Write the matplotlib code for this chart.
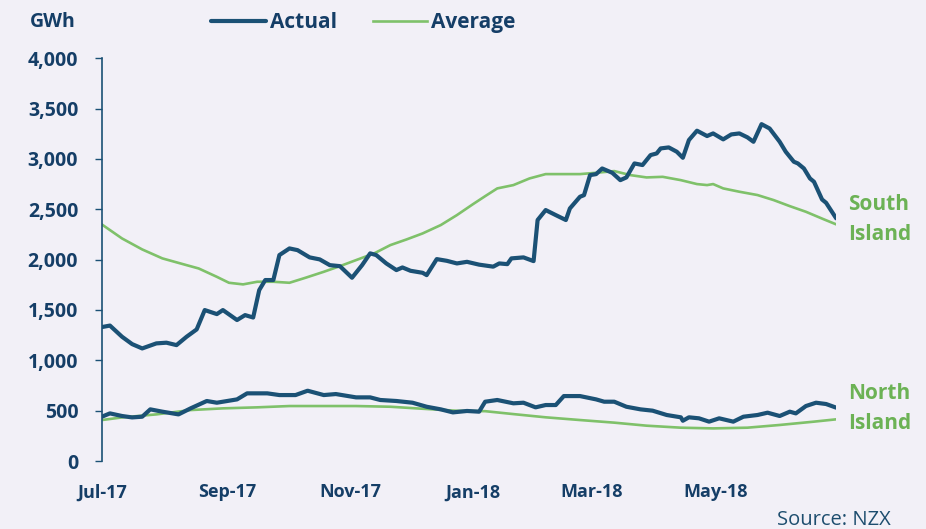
import numpy as np
import pandas as pd
import matplotlib
matplotlib.use("Agg")
import matplotlib.pyplot as plt
import matplotlib.dates as mdates

# days since 1 Jul 2017, values in GWh
south_actual_day = [0, 4, 10, 15, 20, 27, 32, 37, 42, 47, 51, 57, 60, 67, 71, 75, 78, 81, 85, 88,
                    93, 97, 103, 108, 113, 118, 124, 129, 133, 136, 141, 146, 149, 153, 159, 161,
                    166, 171, 176, 181, 187, 194, 197, 201, 203, 209, 214, 216, 220, 225, 230, 232,
                    237, 239, 242, 245, 248, 253, 257, 260, 264, 268, 272, 275, 277, 281, 285, 288,
                    291, 295, 300, 303, 308, 312, 316, 320, 323, 327, 331, 336, 339, 343, 345, 348,
                    351, 353, 357, 359, 364]
south_actual = [1330, 1345, 1234, 1161, 1118, 1168, 1175, 1151, 1234, 1307, 1499, 1459, 1499, 1400,
                1449, 1425, 1697, 1797, 1797, 2045, 2111, 2094, 2022, 2002, 1945, 1935, 1820, 1945,
                2062, 2045, 1962, 1896, 1922, 1889, 1869, 1846, 2005, 1988, 1962, 1978, 1950, 1930,
                1962, 1955, 2012, 2022, 1985, 2393, 2492, 2442, 2393, 2508, 2624, 2640, 2839, 2849,
                2905, 2862, 2789, 2816, 2955, 2939, 3038, 3054, 3104, 3114, 3071, 3011, 3187, 3280,
                3227, 3253, 3194, 3243, 3253, 3214, 3170, 3345, 3302, 3170, 3071, 2972, 2955, 2905,
                2806, 2773, 2597, 2564, 2410]

south_avg_day = [0, 10, 20, 30, 42, 48, 57, 63, 70, 77, 85, 93, 101, 110, 118, 126, 135, 143, 151,
                 159, 168, 176, 184, 190, 196, 204, 212, 220, 229, 237, 245, 254, 262, 270, 278,
                 287, 295, 300, 303, 308, 316, 325, 333, 341, 349, 358, 364]
south_avg = [2349, 2210, 2101, 2012, 1945, 1912, 1829, 1770, 1754, 1780, 1780, 1770, 1820, 1879,
             1935, 1995, 2062, 2144, 2200, 2260, 2343, 2442, 2551, 2630, 2707, 2740, 2806, 2849,
             2849, 2849, 2862, 2879, 2839, 2816, 2822, 2789, 2750, 2740, 2750, 2707, 2674, 2641,
             2591, 2531, 2475, 2399, 2350]

north_actual_day = [0, 4, 10, 15, 20, 24, 30, 38, 44, 52, 57, 67, 72, 82, 88, 96, 102, 110, 116,
                    126, 133, 138, 146, 154, 161, 168, 174, 181, 187, 190, 196, 204, 209, 215, 220,
                    225, 229, 237, 245, 249, 254, 260, 267, 273, 280, 287, 288, 291, 296, 301, 306,
                    313, 318, 325, 330, 336, 341, 344, 349, 354, 359, 364]
north_actual = [440, 473, 447, 433, 440, 513, 490, 463, 523, 596, 579, 612, 672, 672, 655, 655, 698,
                655, 665, 632, 632, 606, 596, 579, 539, 513, 483, 497, 490, 589, 606, 573, 579, 533,
                556, 556, 645, 645, 612, 589, 589, 539, 513, 500, 457, 434, 400, 434, 424, 391, 424,
                391, 440, 457, 480, 447, 490, 473, 546, 579, 566, 530]

north_avg_day = [0, 10, 27, 44, 60, 77, 93, 110, 126, 143, 159, 176, 190, 204, 220, 237, 254, 270,
                 287, 303, 320, 336, 353, 364]
north_avg = [407, 433, 463, 506, 523, 533, 546, 546, 546, 539, 519, 499, 495, 466, 434, 407, 381,
             351, 331, 324, 331, 358, 391, 414]

tick_months = ["2017-07-01", "2017-09-01", "2017-11-01", "2018-01-01", "2018-03-01", "2018-05-01"]

start = pd.Timestamp("2017-07-01")
def to_dates(days):
    return start + pd.to_timedelta(days, unit="D")

navy = "#1b5175"
text_navy = "#153e67"
green = "#7fc16a"
label_green = "#6cb255"
bg = "#f2f0f7"

plt.rcParams['font.family'] = ['Open Sans', 'DejaVu Sans']

fig = plt.figure(figsize=(9.26, 5.29), dpi=100, facecolor=bg)
ax = fig.add_axes([0.110, 0.1285, 0.793, 0.7615], facecolor=bg)

ax.plot(to_dates(south_avg_day), south_avg, color=green, lw=1.9, label="Average", zorder=2)
ax.plot(to_dates(north_avg_day), north_avg, color=green, lw=1.9, zorder=2)
ax.plot(to_dates(south_actual_day), south_actual, color=navy, lw=3.0, label="Actual", zorder=3,
        solid_joinstyle="round", solid_capstyle="round")
ax.plot(to_dates(north_actual_day), north_actual, color=navy, lw=3.0, zorder=3,
        solid_joinstyle="round", solid_capstyle="round")

ax.set_xlim(start, pd.Timestamp("2018-06-30"))
ax.set_ylim(0, 4000)
ax.set_yticks(np.arange(0, 4001, 500))
ax.yaxis.set_major_formatter(matplotlib.ticker.FuncFormatter(lambda v, p: f"{int(v):,}"))
ax.set_xticks(pd.to_datetime(tick_months))
ax.xaxis.set_major_formatter(mdates.DateFormatter("%b-%y"))

for s in ["top", "right", "bottom"]:
    ax.spines[s].set_visible(False)
ax.spines["left"].set_color(navy)
ax.spines["left"].set_linewidth(1.2)
ax.tick_params(axis="y", length=5, width=1, color=navy, pad=12, labelsize=14, labelcolor=text_navy)
ax.tick_params(axis="x", length=0, pad=16, labelsize=13, labelcolor=text_navy)
for lab in ax.get_yticklabels() + ax.get_xticklabels():
    lab.set_fontweight("bold")

# legend: Actual first, Average second
h, l = ax.get_legend_handles_labels()
order = [l.index("Actual"), l.index("Average")]
leg = fig.legend([h[i] for i in order], [l[i] for i in order], loc="center left",
                 bbox_to_anchor=(0.208, 0.957), ncol=2, frameon=False, handlelength=2.6,
                 handletextpad=0.2, columnspacing=1.75, fontsize=15)
for t in leg.get_texts():
    t.set_color(text_navy)
    t.set_fontweight("bold")

fig.text(0.032, 0.958, "GWh", fontsize=14, fontweight="bold", color=text_navy, va="center")

fig.text(0.916, 0.585, "South\nIsland", fontsize=15, fontweight="bold", color=label_green,
         va="center", ha="left", linespacing=1.55)
fig.text(0.916, 0.228, "North\nIsland", fontsize=15, fontweight="bold", color=label_green,
         va="center", ha="left", linespacing=1.55)

fig.text(0.962, 0.017, "Source: NZX", fontsize=14.5, color="#1d4d6e", ha="right", va="center")

fig.savefig("out.png", dpi=100, facecolor=bg)
